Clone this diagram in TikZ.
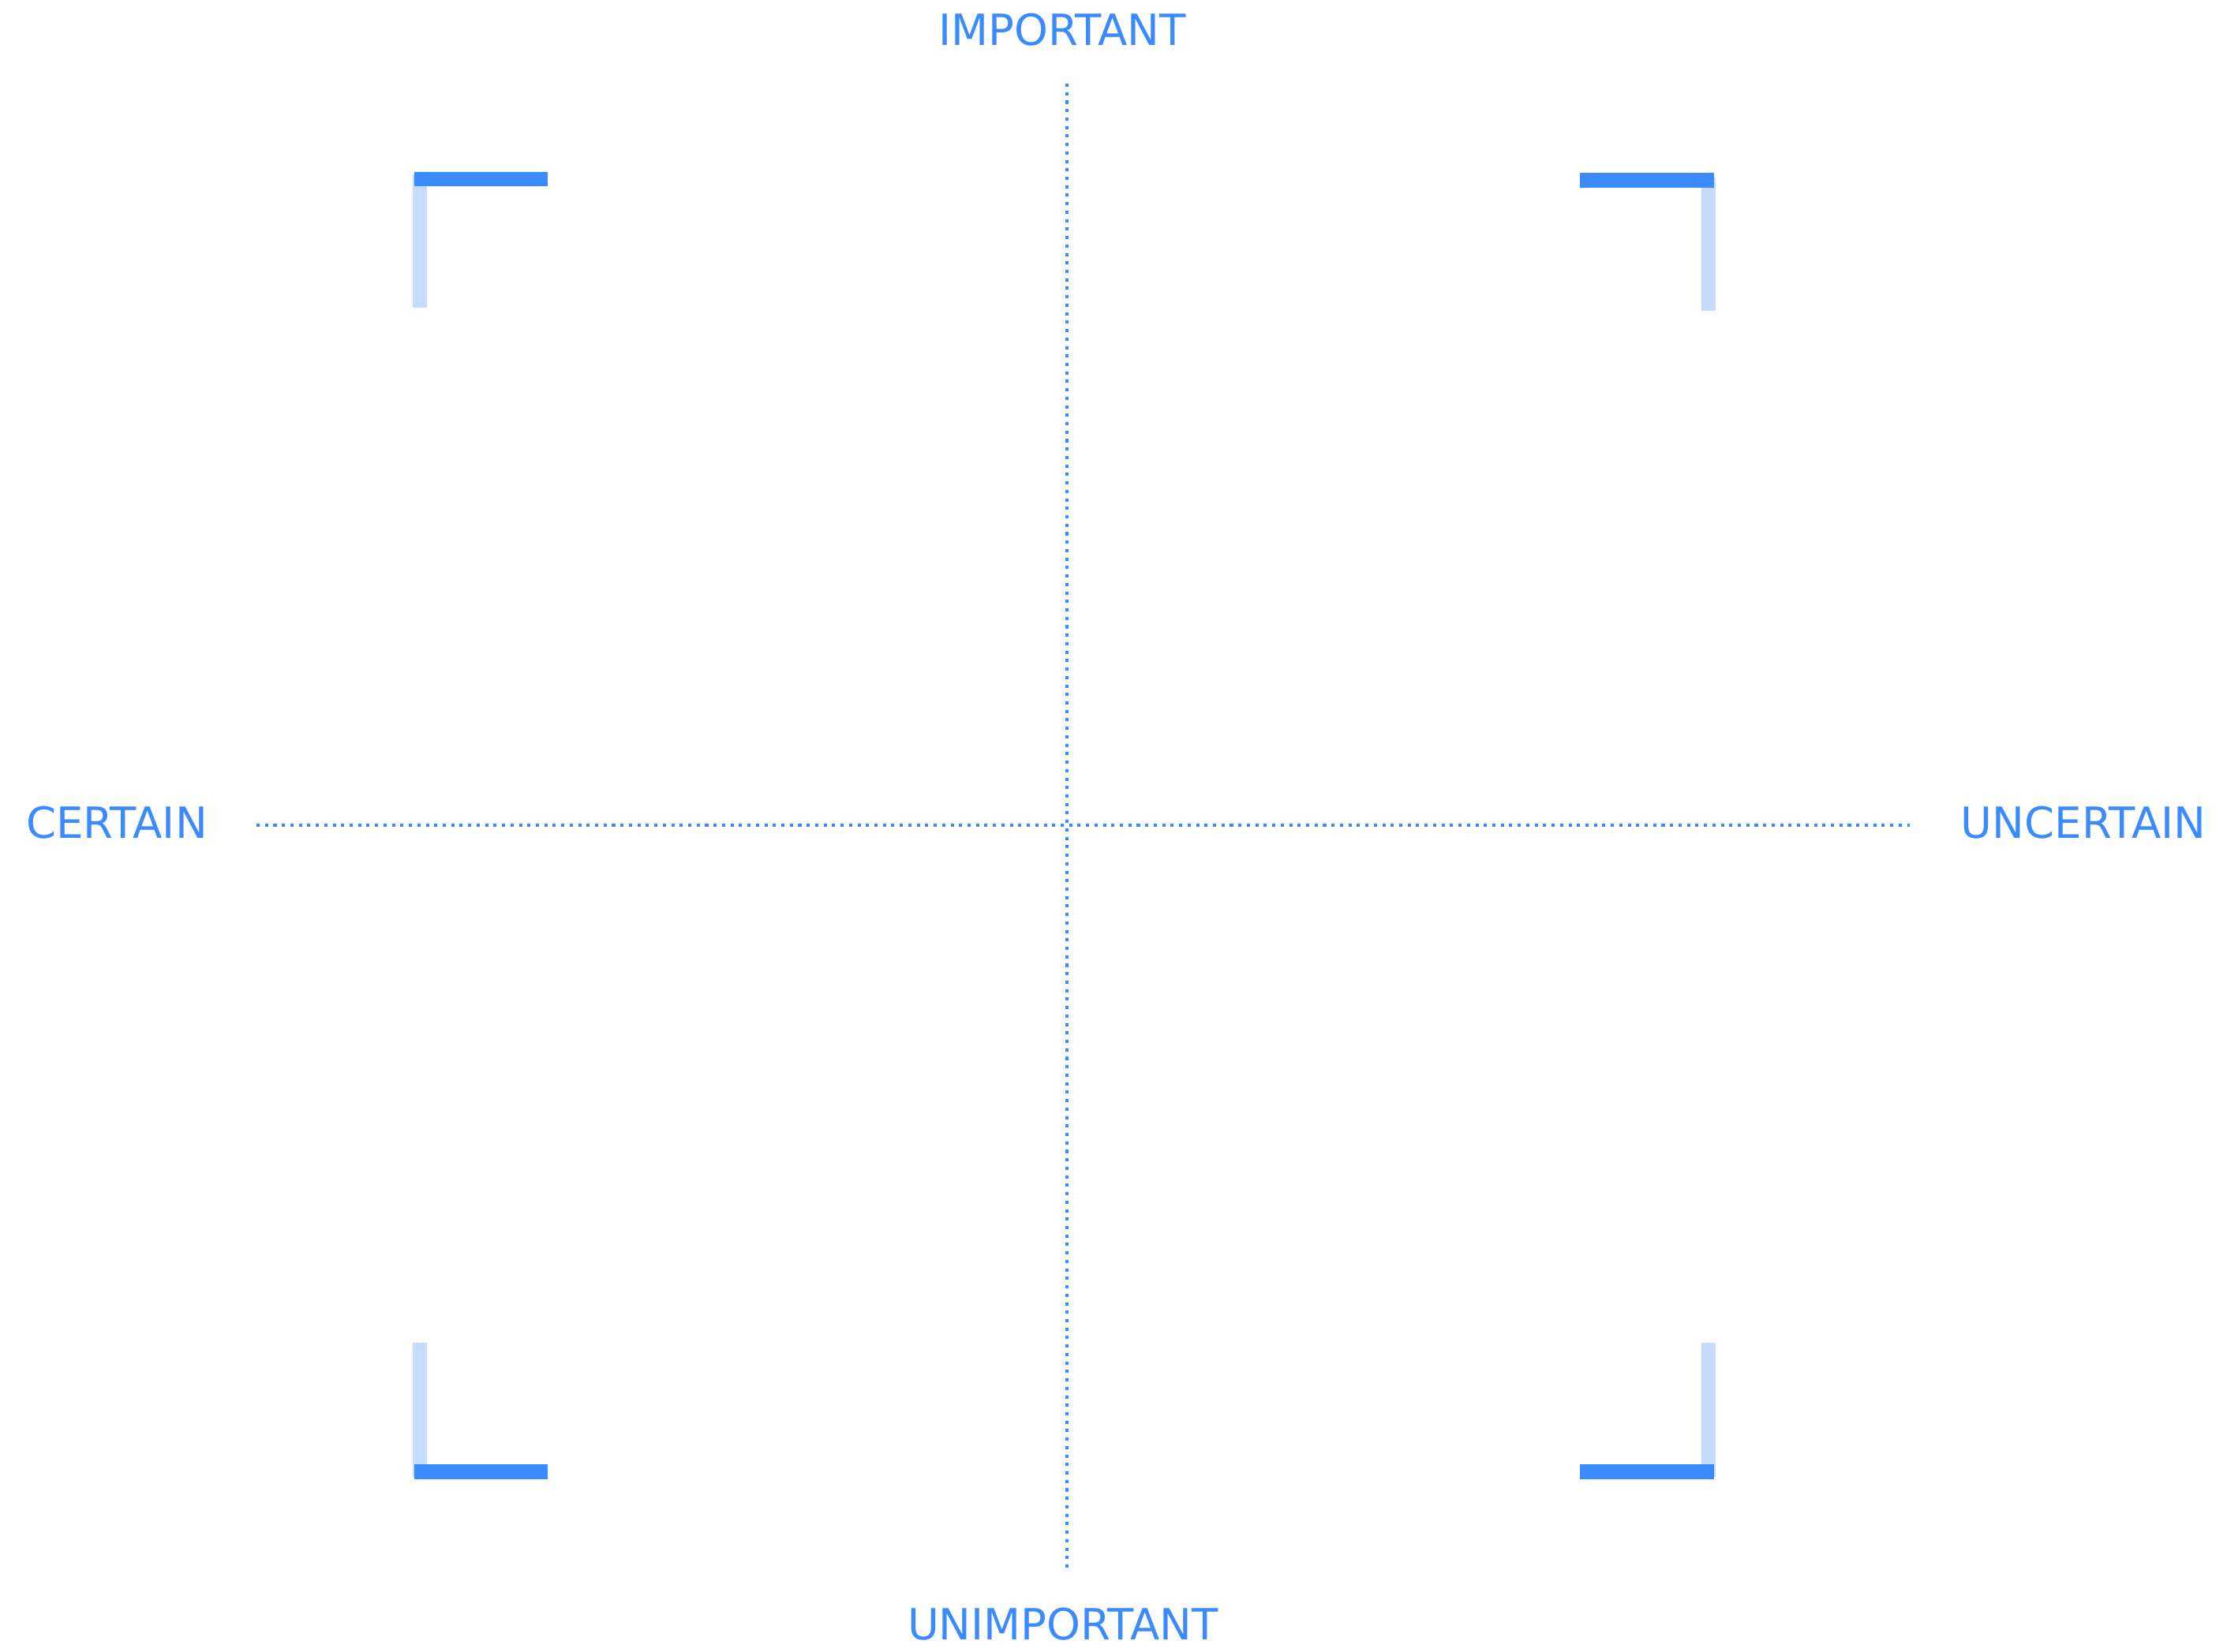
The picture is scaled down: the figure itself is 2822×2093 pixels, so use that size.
\documentclass[tikz,border=0pt]{standalone}
\usepackage{fontspec}
\setmainfont{DejaVu Sans}
\usetikzlibrary{positioning}
\definecolor{axisblue}{RGB}{59,139,255}
\definecolor{paleblue}{RGB}{197,219,255}

\begin{document}
\begin{tikzpicture}[
  x=0.01cm, y=-0.01cm,
  lab/.style={text=axisblue, font=\fontsize{15.5}{18}\selectfont, inner sep=0pt, anchor=base},
  axis/.style={draw=axisblue, line width=1.15pt, dash pattern=on 1.15pt off 1.9pt},
  barh/.style={fill=axisblue},
  barv/.style={fill=paleblue}
]
\useasboundingbox (0,0) rectangle (2822,2093);
% labels
\node[lab] (imp) at (1346,57) {IMPORTANT};
\node[lab] (unimp) at (1347,2078) {UNIMPORTANT};
\node[lab] (cert) at (148,1062) {CERTAIN};
\node[lab] (uncert) at (2640,1062) {UNCERTAIN};
% axis ends
\coordinate (vtop) at (1352,106);
\coordinate (vbot) at (1352,1988);
\coordinate (hleft) at (325,1046);
\coordinate (hright) at (2420,1046);
\draw[axis] (vtop) -- (vbot);
\draw[axis] (hleft) -- (hright);
% corner brackets
\fill[barv] (523,221) rectangle (541,390);
\fill[barh] (525,218) rectangle (694,236);
\fill[barv] (2156,225) rectangle (2174,394);
\fill[barh] (2002,219) rectangle (2172,238);
\fill[barv] (523,1702) rectangle (541,1872);
\fill[barh] (525,1856) rectangle (694,1875);
\fill[barv] (2156,1702) rectangle (2174,1872);
\fill[barh] (2002,1856) rectangle (2172,1875);
\end{tikzpicture}
\end{document}
